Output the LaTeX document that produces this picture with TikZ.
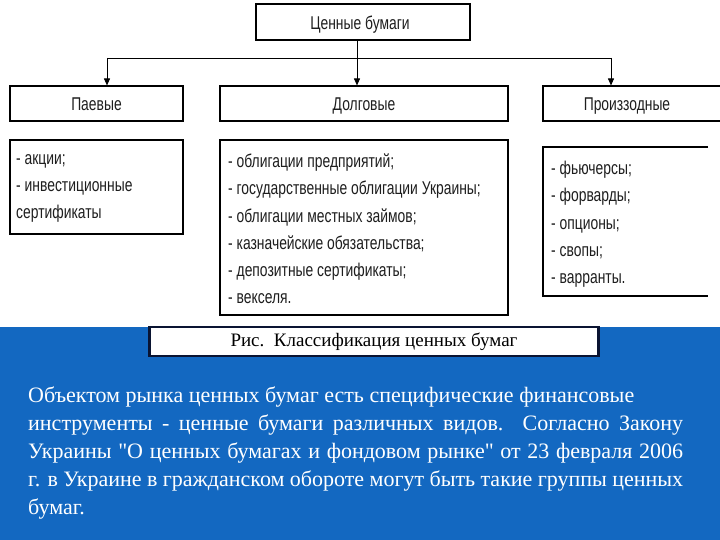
\documentclass[tikz,border=0pt]{standalone}
\usepackage{fontspec}
\setmainfont{Liberation Serif}[Ligatures=TeXOff]
\newfontfamily\narrow[FakeStretch=0.75]{Liberation Sans}
\usetikzlibrary{arrows.meta}
\definecolor{bg}{RGB}{19,104,193}
\definecolor{ink}{RGB}{30,30,30}
\definecolor{capline}{RGB}{10,20,50}
\tikzset{
  box/.style={draw=black, line width=1.1pt, inner sep=0pt},
  head/.style={font=\narrow\fontsize{18.5}{20}\selectfont, text=ink, anchor=base, inner sep=0pt},
  lst/.style={font=\narrow\fontsize{18.5}{27.3}\selectfont, text=ink, align=left, inner sep=0pt, anchor=north west},
  arr/.style={line width=0.9pt, -{Triangle[length=7pt,width=6pt]}}
}
\begin{document}
\begin{tikzpicture}[x=1pt,y=-1pt]
\useasboundingbox (0,0) rectangle (720,540);
\fill[white] (0,0) rectangle (720,540);
% blue lower area
\fill[bg] (0,327) rectangle (720,540);

% top box
\node[box, minimum width=214pt, minimum height=36pt] (top) at (363,22) {};
\node[head] (topT) at (360,30) {Ценные бумаги};

% header boxes
\node[box, minimum width=173pt, minimum height=35pt] (pae) at (96.5,103.5) {};
\node[head] (paeH) at (96.5,111) {Паевые};
\node[box, minimum width=288pt, minimum height=35pt] (dol) at (364,103.5) {};
\node[head] (dolH) at (364,111) {Долговые};
\draw[line width=1.1pt] (722,86) -| (543,121) -- (722,121);
\node[head] (pro) at (627,111) {Произзодные};

% connectors
\coordinate (ja) at (107,0);
\coordinate (jb) at (357,0);
\coordinate (jc) at (611,0);
\coordinate (bus) at (357,58);
\draw[line width=0.9pt] (top.south -| jb) -- (bus);
\draw[line width=0.9pt] (ja |- bus) -- (jc |- bus);
\draw[arr] (ja |- bus) -- (pae.north -| ja);
\draw[arr] (bus) -- (dol.north -| jb);
\draw[arr] (jc |- bus) -- (pae.north -| jc);

% list boxes
\node[box, minimum width=173pt, minimum height=94pt] (paeL) at (96.5,187) {};
\node[lst] (paeT) at (16,154) {- акции;\\- инвестиционные\\сертификаты};

\node[box, minimum width=288pt, minimum height=175pt] (dolL) at (364,227.5) {};
\node[lst] (dolT) at (228,153.5) {- облигации  предприятий;\\- государственные облигации Украины;\\- облигации местных займов;\\- казначейские обязательства;\\- депозитные сертификаты;\\- векселя.};

\draw[line width=1.1pt] (708,147) -| (543,296) -- (708,296);
\node[lst] (proT) at (551,161) {- фьючерсы;\\- форварды;\\- опционы;\\- свопы;\\- варранты.};

% caption
\node[draw=capline, line width=2.4pt, fill=white, minimum width=449pt, minimum height=29pt, inner sep=0pt,
      font=\fontsize{19}{21}\selectfont] (cap) at (374,341.5) {Рис.\ \ Классификация ценных бумаг};

% body text
\node[text=white, text width=655pt, align=justify, inner sep=0pt, anchor=north west,
      font=\fontsize{22}{28}\selectfont] (body) at (28,387)
{Объектом рынка ценных бумаг есть специфические финансовые\\
инструменты - ценные бумаги различных видов. Согласно Закону\linebreak
Украины "О ценных бумагах и фондовом рынке" от 23 февраля 2006\linebreak
г. в Украине в гражданском обороте могут быть такие группы ценных\linebreak
бумаг.};
\end{tikzpicture}
\end{document}
